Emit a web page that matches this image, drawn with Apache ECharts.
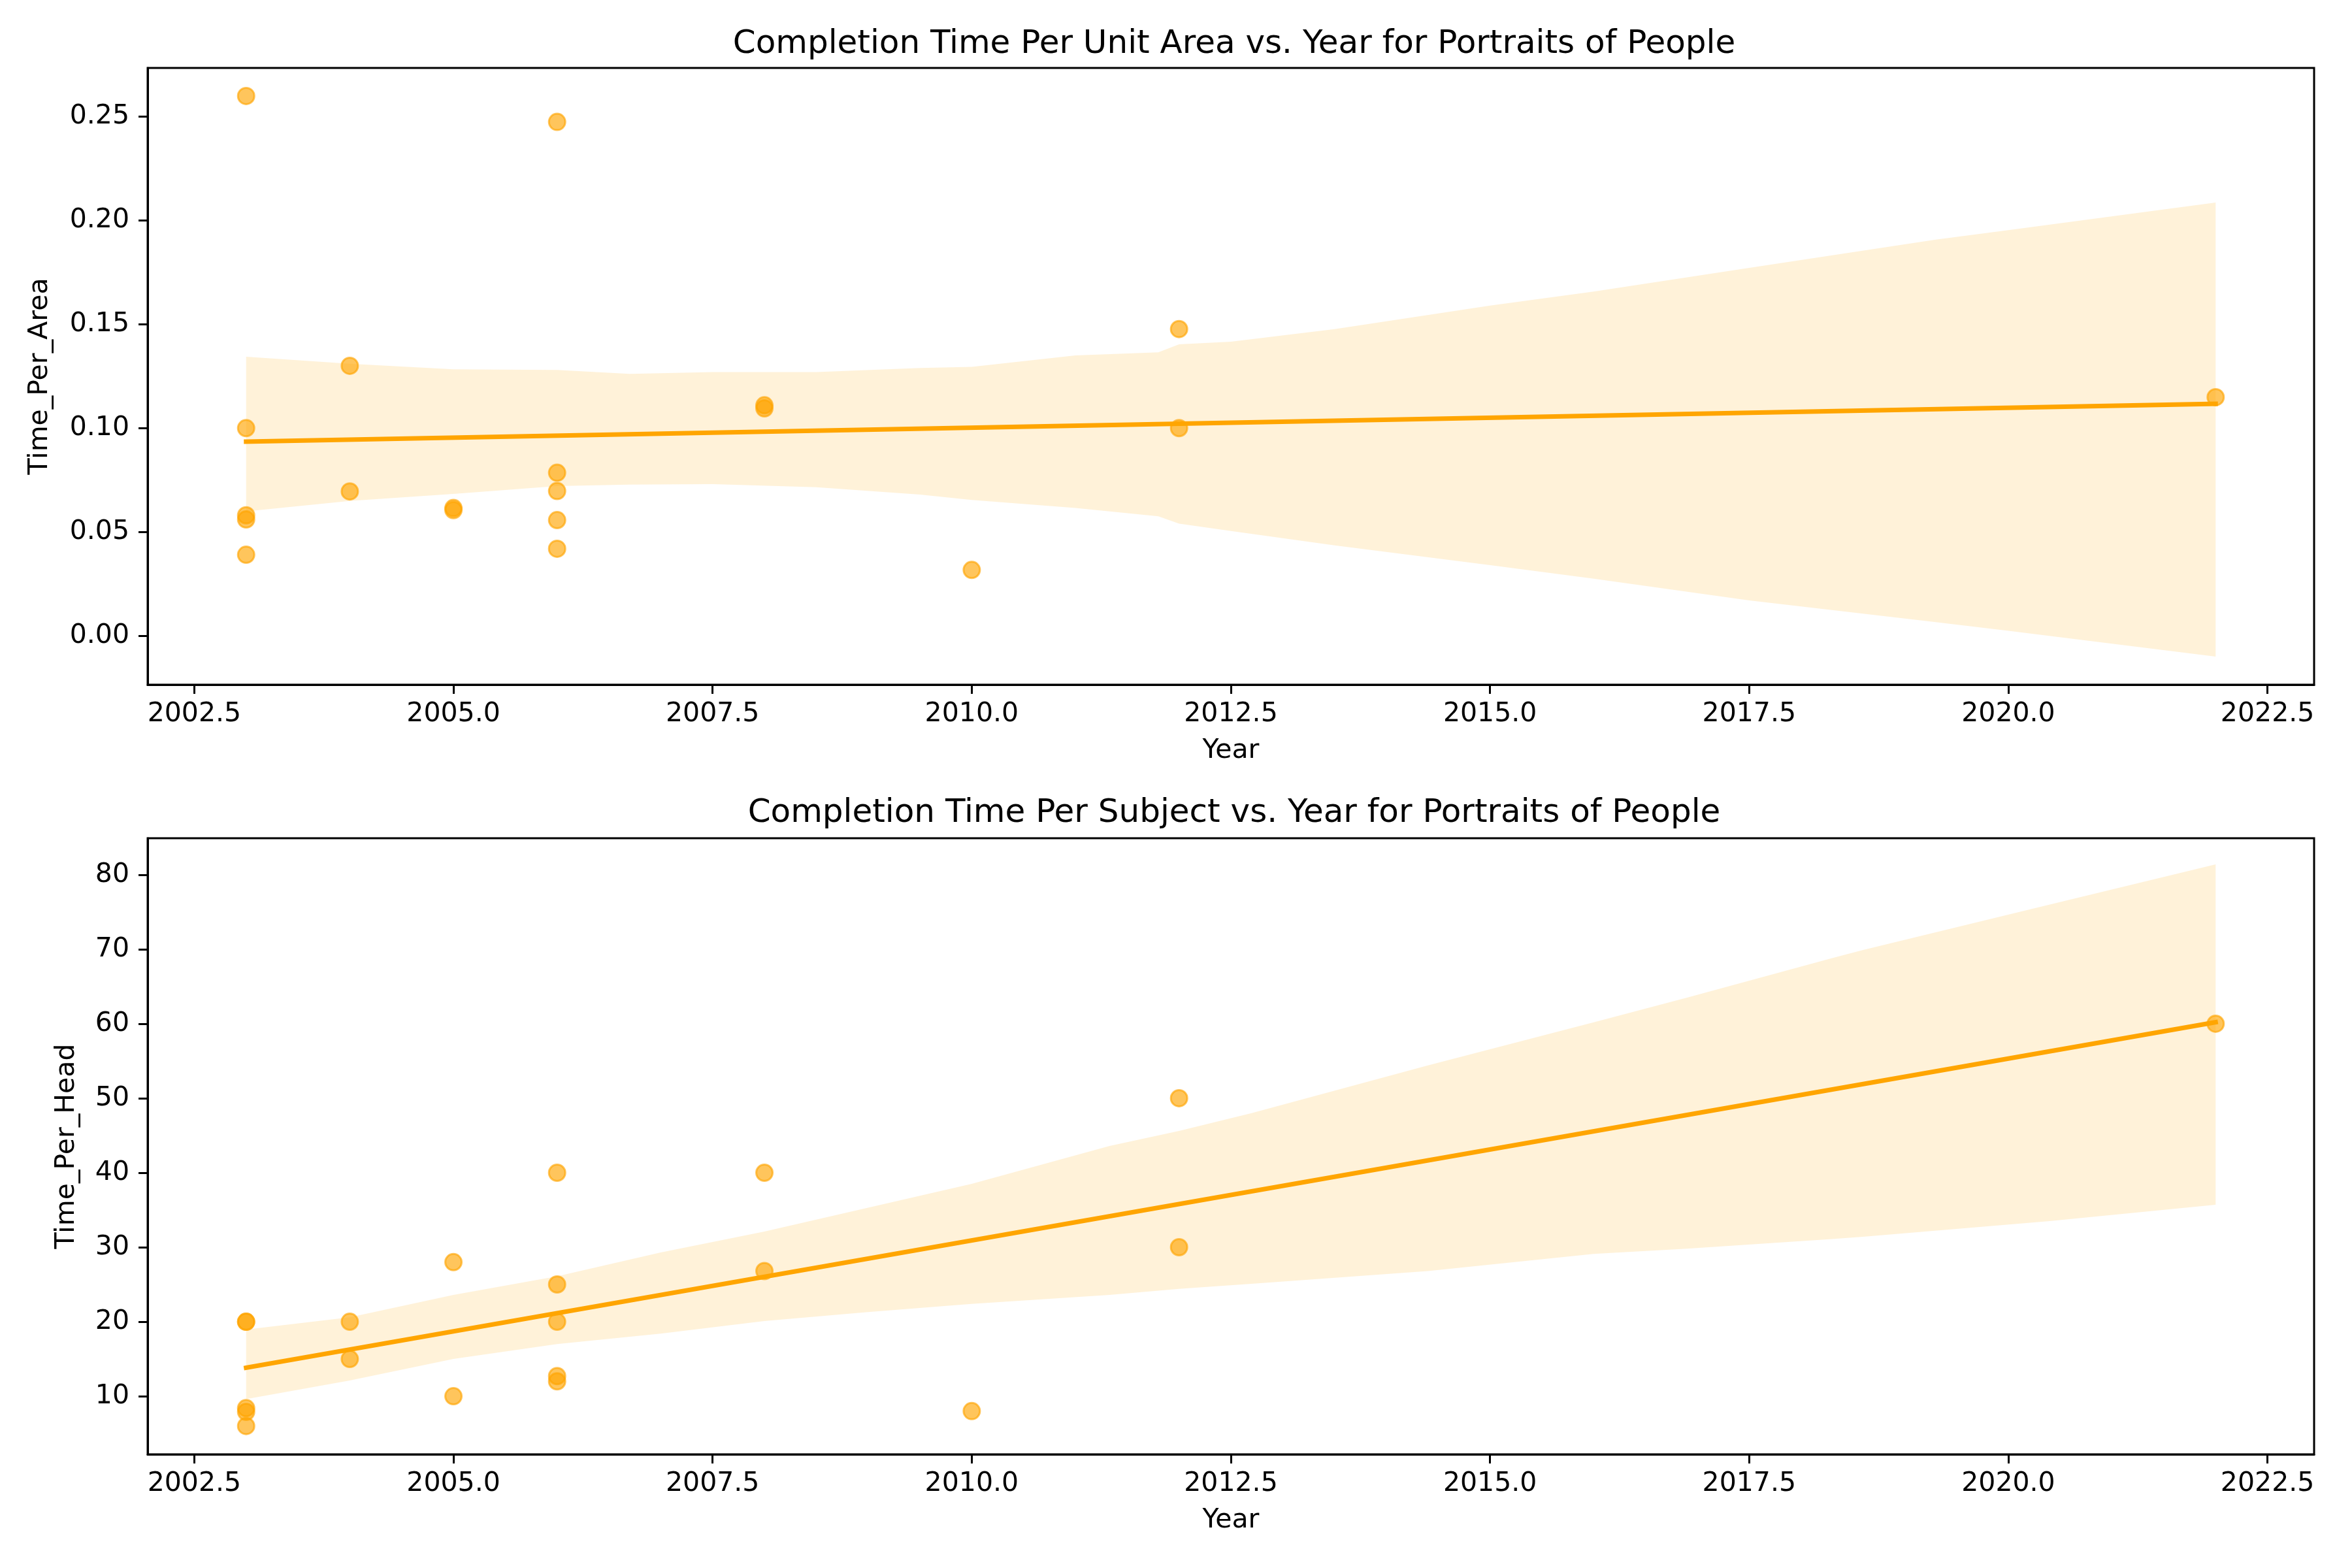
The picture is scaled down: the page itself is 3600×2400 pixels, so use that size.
<!DOCTYPE html>
<html>
<head>
<meta charset="utf-8">
<script src="https://cdn.jsdelivr.net/npm/echarts@6/dist/echarts.min.js"></script>
<style>
  html, body { margin: 0; padding: 0; background: #fff; }
  #chart { width: 3600px; height: 2400px; }
</style>
</head>
<body>
<div id="chart"></div>
<script>
// scatter points (same year order for both panels)
var years = [2003, 2003, 2003, 2003, 2003, 2004, 2004, 2005, 2005, 2006, 2006, 2006, 2006, 2006, 2008, 2008, 2010, 2012, 2012, 2022];
var timePerArea = [0.260, 0.100, 0.058, 0.056, 0.039, 0.130, 0.0695, 0.0615, 0.0605, 0.2475, 0.0785, 0.0697, 0.0557, 0.0419, 0.111, 0.1095, 0.0317, 0.1477, 0.100, 0.1149];
var timePerHead = [20, 20, 8.4, 7.9, 6.0, 20, 15, 28, 10, 40, 25, 20, 12.7, 12, 40, 26.8, 8, 50, 30, 60];

// regression line ends
var fitYears = [2003, 2022];
var areaFit = [0.0935, 0.1117];
var headFit = [13.82, 60.2];

// confidence bands
var areaBandYears = [2003, 2004, 2005, 2006, 2006.7, 2007.5, 2008.5, 2009.5, 2010, 2011, 2011.8, 2012, 2012.5, 2013.5, 2015, 2016, 2017.5, 2019.3, 2020, 2022];
var areaBandHigh = [0.1344, 0.131, 0.1283, 0.128, 0.1261, 0.127, 0.127, 0.129, 0.1295, 0.135, 0.1365, 0.1404, 0.1416, 0.1477, 0.159, 0.1658, 0.1772, 0.1908, 0.1954, 0.2087];
var areaBandLow = [0.0599, 0.0649, 0.0683, 0.0721, 0.0728, 0.073, 0.0715, 0.068, 0.0654, 0.0615, 0.0575, 0.054, 0.0504, 0.0435, 0.034, 0.0275, 0.017, 0.0065, 0.0024, -0.0101];

var headBandYears = [2003, 2004, 2005, 2006, 2007, 2008, 2009, 2010, 2011.33, 2012, 2012.7, 2014.4, 2016, 2016.9, 2018.3, 2018.6, 2020.4, 2022];
var headBandHigh = [18.96, 20.6, 23.6, 26.1, 29.3, 32.1, 35.3, 38.5, 43.6, 45.6, 48.0, 54.4, 60.2, 63.5, 68.8, 69.9, 76.0, 81.4];
var headBandLow = [9.62, 12.1, 15.0, 17.0, 18.4, 20.1, 21.3, 22.4, 23.6, 24.4, 25.1, 26.8, 29.1, 29.8, 31.1, 31.4, 33.5, 35.7];

// tick labels
var yearTicks = [2002.5, 2005.0, 2007.5, 2010.0, 2012.5, 2015.0, 2017.5, 2020.0, 2022.5];
var areaTicks = [0.00, 0.05, 0.10, 0.15, 0.20, 0.25];
var headTicks = [10, 20, 30, 40, 50, 60, 70, 80];

var ORANGE = '#FFA500';
var FONT = 'DejaVu Sans';

function zip(a, b) {
  return a.map(function (v, i) { return [v, b[i]]; });
}

function bandSeries(idx, xs, lo, hi) {
  return {
    type: 'custom',
    xAxisIndex: idx,
    yAxisIndex: idx,
    silent: true,
    z: 1,
    data: xs.map(function (x, i) { return [x, lo[i], hi[i]]; }),
    renderItem: function (params, api) {
      if (params.dataIndex !== 0) return null;
      var pts = [];
      for (var i = 0; i < xs.length; i++) pts.push(api.coord([xs[i], hi[i]]));
      for (var j = xs.length - 1; j >= 0; j--) pts.push(api.coord([xs[j], lo[j]]));
      return {
        type: 'polygon',
        shape: { points: pts },
        style: { fill: 'rgba(255,165,0,0.15)', stroke: null }
      };
    }
  };
}

function xAxisCfg(idx) {
  return {
    type: 'value',
    gridIndex: idx,
    min: 2002.05,
    max: 2022.95,
    name: 'Year',
    nameLocation: 'middle',
    nameGap: 81,
    nameTextStyle: { fontFamily: FONT, fontSize: 41, color: '#000' },
    axisLine: { show: true, onZero: false, lineStyle: { color: '#000', width: 3 } },
    axisTick: { show: true, length: 14, customValues: yearTicks, lineStyle: { color: '#000', width: 3 } },
    axisLabel: {
      customValues: yearTicks, margin: 25, fontFamily: FONT, fontSize: 41, color: '#000',
      formatter: function (v) { return v.toFixed(1); }
    },
    splitLine: { show: false }
  };
}

function yAxisCfg(idx, name, min, max, ticks, digits, gap) {
  return {
    type: 'value',
    gridIndex: idx,
    min: min,
    max: max,
    name: name,
    nameLocation: 'middle',
    nameGap: gap,
    nameTextStyle: { fontFamily: FONT, fontSize: 41, color: '#000' },
    axisLine: { show: true, onZero: false, lineStyle: { color: '#000', width: 3 } },
    axisTick: { show: true, length: 14, customValues: ticks, lineStyle: { color: '#000', width: 3 } },
    axisLabel: {
      customValues: ticks, margin: 28, fontFamily: FONT, fontSize: 41, color: '#000',
      formatter: function (v) { return v.toFixed(digits); }
    },
    splitLine: { show: false }
  };
}

var chart = echarts.init(document.getElementById('chart'), null, { renderer: 'canvas' });

var option = {
  backgroundColor: '#fff',
  animation: false,
  title: [
    {
      text: 'Completion Time Per Unit Area vs. Year for Portraits of People',
      left: 1884, top: 38, textAlign: 'center',
      textStyle: { fontFamily: FONT, fontSize: 50, fontWeight: 'normal', color: '#000' }
    },
    {
      text: 'Completion Time Per Subject vs. Year for Portraits of People',
      left: 1884, top: 1215, textAlign: 'center',
      textStyle: { fontFamily: FONT, fontSize: 50, fontWeight: 'normal', color: '#000' }
    }
  ],
  grid: [
    { left: 226, top: 104, width: 3316, height: 944, show: true, borderColor: '#000', borderWidth: 3, containLabel: false, outerBoundsMode: 'none' },
    { left: 226, top: 1283, width: 3316, height: 943, show: true, borderColor: '#000', borderWidth: 3, containLabel: false, outerBoundsMode: 'none' }
  ],
  xAxis: [xAxisCfg(0), xAxisCfg(1)],
  yAxis: [
    yAxisCfg(0, 'Time_Per_Area', -0.0236, 0.2735, areaTicks, 2, 144),
    yAxisCfg(1, 'Time_Per_Head', 2.2, 84.9, headTicks, 0, 103)
  ],
  series: [
    bandSeries(0, areaBandYears, areaBandLow, areaBandHigh),
    bandSeries(1, headBandYears, headBandLow, headBandHigh),
    {
      type: 'scatter', xAxisIndex: 0, yAxisIndex: 0, z: 2,
      symbolSize: 25,
      itemStyle: { color: 'rgba(255,165,0,0.8)', borderColor: 'rgba(255,165,0,0.8)', borderWidth: 3 },
      data: zip(years, timePerArea)
    },
    {
      type: 'scatter', xAxisIndex: 1, yAxisIndex: 1, z: 2,
      symbolSize: 25,
      itemStyle: { color: 'rgba(255,165,0,0.8)', borderColor: 'rgba(255,165,0,0.8)', borderWidth: 3 },
      data: zip(years, timePerHead)
    },
    {
      type: 'line', xAxisIndex: 0, yAxisIndex: 0, z: 3,
      showSymbol: false, symbol: 'none',
      lineStyle: { color: ORANGE, width: 7, cap: 'square' },
      data: zip(fitYears, areaFit)
    },
    {
      type: 'line', xAxisIndex: 1, yAxisIndex: 1, z: 3,
      showSymbol: false, symbol: 'none',
      lineStyle: { color: ORANGE, width: 7, cap: 'square' },
      data: zip(fitYears, headFit)
    }
  ]
};

chart.setOption(option);
</script>
</body>
</html>
